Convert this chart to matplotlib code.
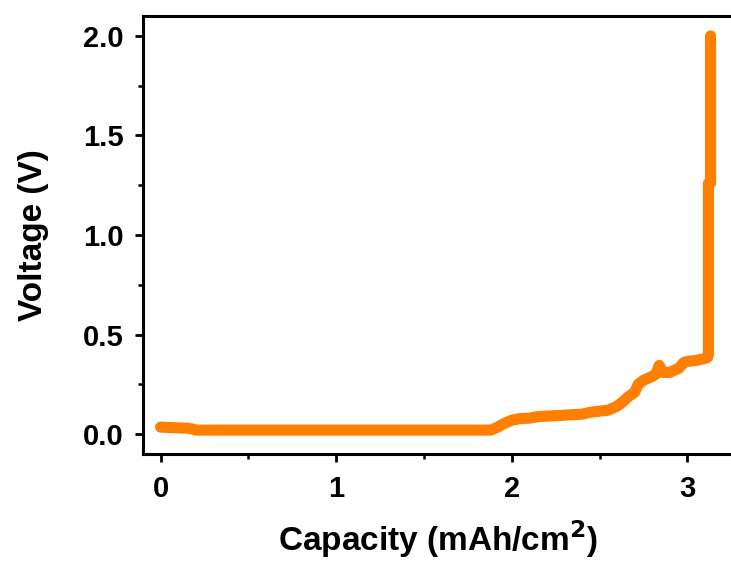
import matplotlib
matplotlib.use("Agg")
import matplotlib.pyplot as plt
from matplotlib.ticker import MultipleLocator

plt.rcParams['font.family'] = ['Liberation Sans', 'DejaVu Sans']
plt.rcParams['font.weight'] = 'bold'

capacity = [0.0, 0.05, 0.1, 0.15, 0.18, 0.2, 0.5, 1.0, 1.5, 1.88, 1.92, 1.96, 2.0,
            2.05, 2.1, 2.15, 2.2, 2.3, 2.4, 2.45, 2.5, 2.55, 2.6, 2.63, 2.66,
            2.7, 2.72, 2.75, 2.8, 2.82, 2.84, 2.86, 2.9, 2.95, 2.98, 3.0, 3.05,
            3.1, 3.115, 3.12, 3.12, 3.132, 3.132]
voltage = [0.035, 0.033, 0.031, 0.03, 0.026, 0.02, 0.02, 0.02, 0.02, 0.02, 0.035,
           0.055, 0.07, 0.078, 0.08, 0.088, 0.09, 0.095, 0.1, 0.11, 0.115,
           0.12, 0.14, 0.16, 0.185, 0.21, 0.25, 0.27, 0.29, 0.3, 0.345, 0.31,
           0.31, 0.33, 0.36, 0.365, 0.37, 0.38, 0.385, 0.40, 1.26, 1.26, 2.0]

x_ticks = [0, 1, 2, 3]
y_ticks = [0.0, 0.5, 1.0, 1.5, 2.0]

fig = plt.figure(figsize=(7.31, 5.63), dpi=100)
ax = fig.add_axes([143/731, 109/563, 590/731, 438/563])

ax.plot(capacity, voltage, color='#FF7F00', lw=8, solid_capstyle='round',
        solid_joinstyle='round')

ax.set_xlim(-0.1, 3.26)
ax.set_ylim(-0.1, 2.1)
ax.set_xticks(x_ticks)
ax.set_xticklabels([str(t) for t in x_ticks])
ax.set_yticks(y_ticks)
ax.set_yticklabels([f"{t:.1f}" for t in y_ticks])
ax.xaxis.set_minor_locator(MultipleLocator(0.5))
ax.yaxis.set_minor_locator(MultipleLocator(0.25))

for s in ax.spines.values():
    s.set_linewidth(2.2)
ax.tick_params(which='major', direction='out', length=6, width=2.0,
               labelsize=21)
ax.tick_params(axis='x', which='major', pad=9)
ax.tick_params(axis='y', which='major', pad=8)
ax.tick_params(which='minor', direction='out', length=3.5, width=1.8)
ax.tick_params(top=False, right=False, which='both')

ax.set_xlabel('Capacity (mAh/cm$^{\\mathbf{2}}$)', fontsize=24, fontweight='bold', labelpad=11)
ax.set_ylabel('Voltage (V)', fontsize=24, fontweight='bold', labelpad=24)

fig.savefig('out.png', dpi=100)
